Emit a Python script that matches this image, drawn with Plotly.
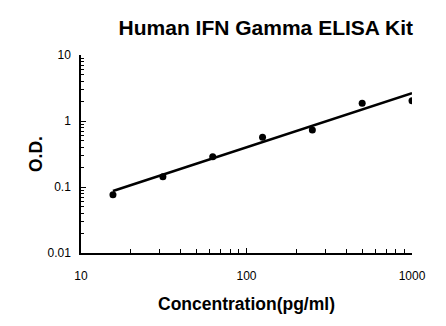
import plotly.graph_objects as go

conc = [15.6, 31.25, 62.5, 125, 250, 500, 1000]
od = [0.076, 0.143, 0.288, 0.566, 0.73, 1.85, 2.03]
fit_x = [15.6, 1000]
fit_y = [0.087, 2.63]

fig = go.Figure()
fig.add_trace(go.Scatter(x=fit_x, y=fit_y, mode="lines",
                         line=dict(color="black", width=2.5), showlegend=False))
fig.add_trace(go.Scatter(x=conc, y=od, mode="markers",
                         marker=dict(color="black", size=7), showlegend=False))

font = "Liberation Sans, Arial, sans-serif"
fig.update_layout(
    width=446, height=326,
    margin=dict(l=81, r=34, t=55, b=73),
    paper_bgcolor="white", plot_bgcolor="white",
    font=dict(family=font, color="black", size=12),
    title=dict(text="<b>Human IFN Gamma ELISA Kit</b>", x=0.596, xref="container",
               xanchor="center", y=0.914, yanchor="middle",
               font=dict(size=21, family=font, color="black")),
    xaxis=dict(type="log", range=[1, 3], showgrid=False, zeroline=False,
               showline=True, linecolor="black", linewidth=1.5,
               ticks="inside", ticklen=5, tickcolor="black", tickwidth=1,
               tickvals=[10, 100, 1000], ticktext=["10", "100", "1000"],
               tickfont=dict(size=12, color="black"),
               ticklabelstandoff=11,
               minor=dict(ticks="inside", ticklen=4, tickcolor="black",
                          tickvals=[20, 30, 40, 50, 60, 70, 80, 90,
                                    200, 300, 400, 500, 600, 700, 800, 900]),
               title=dict(text="<b>Concentration(pg/ml)</b>", standoff=16,
                          font=dict(size=17.5, family=font, color="black"))),
    yaxis=dict(type="log", range=[-2, 1], showgrid=False, zeroline=False,
               showline=True, linecolor="black", linewidth=1.5,
               ticks="inside", ticklen=5, tickcolor="black", tickwidth=1,
               tickvals=[0.01, 0.1, 1, 10], ticktext=["0.01", "0.1", "1", "10"],
               tickfont=dict(size=12, color="black"),
               ticklabelstandoff=6,
               minor=dict(ticks="inside", ticklen=3, tickcolor="black",
                          tickvals=[0.02, 0.03, 0.04, 0.05, 0.06, 0.07, 0.08, 0.09,
                                    0.2, 0.3, 0.4, 0.5, 0.6, 0.7, 0.8, 0.9,
                                    2, 3, 4, 5, 6, 7, 8, 9]),
               title=dict(text="<b>O.D.</b>", standoff=0,
                          font=dict(size=17.5, family=font, color="black"))),
)

fig.write_html("out.html")
